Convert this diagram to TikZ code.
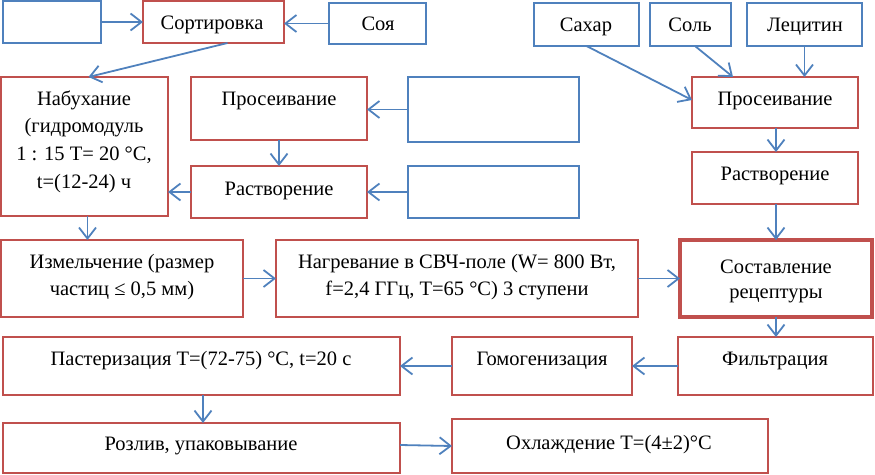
\documentclass[tikz,border=0pt]{standalone}
\usepackage{fontspec}
\setmainfont{Liberation Serif}
\usetikzlibrary{arrows.meta}
\definecolor{bred}{HTML}{C0504D}
\definecolor{bblue}{HTML}{4F81BD}
\newcommand\mkbox[6]{\node[#1, minimum width={(#5-#3)*1pt}, minimum height={(#6-#4)*1pt}] (#2) at ({(#3+#5)/2},{(#4+#6)/2}) {};}
\newcommand\tl[4]{\node[txt] (#1) at (#2,#3) {#4};}
\tikzset{
  rbox/.style={draw=bred, line width=1.3pt, inner sep=0pt, outer sep=0pt},
  bbox/.style={draw=bblue, line width=1.3pt, inner sep=0pt, outer sep=0pt},
  sbox/.style={draw=bred, line width=4pt, inner sep=0pt, outer sep=0pt},
  txt/.style={font=\fontsize{20.5}{25}\selectfont, anchor=base, inner sep=0pt},
  arr/.style={draw=bblue, line width=1.8pt, -{Straight Barb[length=11pt,width=17pt,line width=1.8pt]}}
}
\begin{document}
\begin{tikzpicture}[x=1pt,y=-1pt]
\useasboundingbox (0,0) rectangle (875,474);
% boxes
\mkbox{bbox}{blank1}{3}{1}{101}{43}
\mkbox{rbox}{sort}{143}{1}{284}{43}
\mkbox{bbox}{soya}{329}{3}{426}{44}
\mkbox{rbox}{nab}{1}{77}{168}{216}
\mkbox{rbox}{pros1}{191}{77}{367}{140}
\mkbox{bbox}{blank2}{408}{77}{579}{142}
\mkbox{rbox}{rast1}{191}{166}{367}{218}
\mkbox{bbox}{blank3}{408}{166}{579}{218}
\mkbox{bbox}{sahar}{534}{3}{639}{46}
\mkbox{bbox}{sol}{650}{3}{731}{46}
\mkbox{bbox}{lec}{747}{3}{862}{46}
\mkbox{rbox}{pros2}{692}{77}{858}{128}
\mkbox{rbox}{rast2}{692}{152}{858}{204}
\mkbox{rbox}{izm}{1}{240}{243}{317}
\mkbox{rbox}{nag}{276}{240}{638}{317}
\mkbox{sbox}{sost}{680}{240}{872}{317}
\mkbox{rbox}{past}{3}{337}{400}{395}
\mkbox{rbox}{gomo}{452}{337}{632}{395}
\mkbox{rbox}{filt}{678}{337}{873}{395}
\mkbox{rbox}{roz}{3}{423}{400}{473}
\mkbox{rbox}{ohl}{452}{419}{768}{473}
% texts
\tl{t1}{212}{29}{Сортировка}
\tl{t2}{378}{30}{Соя}
\tl{t3}{84}{105}{Набухание}
\tl{t4}{84}{132.8}{(гидромодуль}
\tl{t5}{84}{160.6}{1 : 15 T= 20 °C,}
\tl{t6}{84}{188.4}{t=(12-24) ч}
\tl{t7}{279}{105}{Просеивание}
\tl{t8}{279}{195}{Растворение}
\tl{t9}{586}{31}{Сахар}
\tl{t10}{690}{31}{Соль}
\tl{t11}{805}{31}{Лецитин}
\tl{t12}{775}{105}{Просеивание}
\tl{t13}{775}{180}{Растворение}
\tl{t14}{122}{268}{Измельчение (размер}
\tl{t15}{122}{295.5}{частиц ≤ 0,5 мм)}
\tl{t16}{457}{268}{Нагревание в СВЧ-поле (W= 800 Вт,}
\tl{t17}{457}{295.5}{f=2,4 ГГц, T=65 °C) 3 ступени}
\tl{t18}{776}{273}{Составление}
\tl{t19}{776}{298}{рецептуры}
\tl{t20}{201}{365}{Пастеризация T=(72-75) °C, t=20 с}
\tl{t21}{542}{365}{Гомогенизация}
\tl{t22}{775}{365}{Фильтрация}
\tl{t23}{201}{450}{Розлив, упаковывание}
\tl{t24}{609}{449}{Охлаждение T=(4±2)°C}
% arrows
\draw[arr] (blank1.east) -- (blank1.east -| sort.west);
\draw[arr] (soya.west) -- (soya.west -| sort.east);
\draw[arr] ([xshift=14pt]sort.south) -- ([xshift=4pt]nab.north);
\draw[arr] ([xshift=3pt]nab.south) -- ([xshift=3pt]nab.south |- izm.north);
\draw[arr] (blank2.west) -- (blank2.west -| pros1.east);
\draw[arr] (pros1.south) -- (pros1.south |- rast1.north);
\draw[arr] (blank3.west) -- (blank3.west -| rast1.east);
\draw[arr] (rast1.west) -- (rast1.west -| nab.east);
\draw[arr] (izm.east) -- (izm.east -| nag.west);
\draw[arr] (nag.east) -- (nag.east -| sost.west);
\draw[arr] (sahar.south) -- ([yshift=2.5pt]pros2.west);
\draw[arr] ([xshift=4.5pt]sol.south) -- ([xshift=-42pt]pros2.north);
\draw[arr] (lec.south) -- (lec.south |- pros2.north);
\draw[arr] ([xshift=1pt]pros2.south) -- ([xshift=1pt]pros2.south |- rast2.north);
\draw[arr] ([xshift=1pt]rast2.south) -- ([xshift=1pt]rast2.south |- sost.north);
\draw[arr] (sost.south) -- (sost.south |- filt.north);
\draw[arr] (filt.west) -- (filt.west -| gomo.east);
\draw[arr] (gomo.west) -- (gomo.west -| past.east);
\draw[arr] ([xshift=1.5pt]past.south) -- ([xshift=1.5pt]past.south |- roz.north);
\draw[arr] ([yshift=3pt]roz.east) -- (ohl.west);
\end{tikzpicture}
\end{document}
